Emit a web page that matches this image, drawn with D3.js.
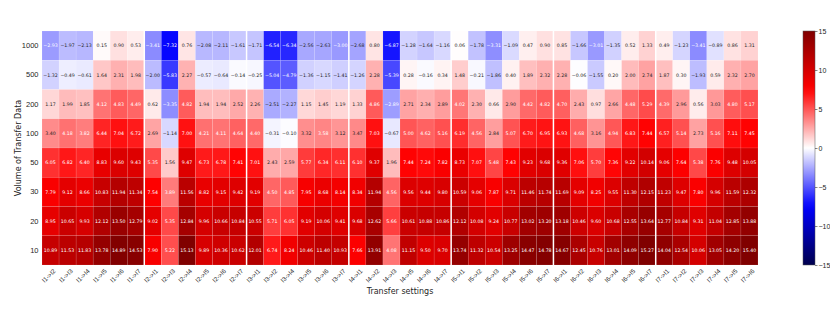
<!DOCTYPE html>
<html>
<head>
<meta charset="utf-8">
<script src="https://cdn.jsdelivr.net/npm/d3@7"></script>
<style>
  body { margin: 0; background: #fff; }
  svg { font-family: "DejaVu Sans", sans-serif; }
</style>
</head>
<body>
<div id="chart-area"></div>
<script>
// Data
let sources = ["I1", "I2", "I3", "I4", "I5", "I6", "I7"];
let volumes = ["1000", "500", "200", "100", "50", "30", "20", "10"];
let colorTicks = [-15, -10, -5, 0, 5, 10, 15];

let row1000 = [-2.93,-1.97,-2.13,0.15,0.90,0.53, -3.41,-7.32,0.76,-2.08,-2.11,-1.61, -1.71,-6.54,-6.34,-2.56,-2.63,-3.00, -2.68,0.80,-6.87,-1.28,-1.64,-1.16, 0.06,-1.78,-3.31,-1.09,0.47,0.90, 0.85,-1.66,-3.01,-1.35,0.52,1.33, 0.49,-1.23,-3.41,-0.89,0.86,1.31];
let row500 = [-1.32,-0.49,-0.61,1.64,2.31,1.98, -2.00,-5.83,2.27,-0.57,-0.64,-0.14, -0.25,-5.04,-4.79,-1.36,-1.15,-1.41, -1.26,2.28,-5.39,0.28,-0.16,0.34, 1.48,-0.21,-1.86,0.40,1.89,2.32, 2.28,-0.06,-1.55,0.20,2.00,2.74, 1.87,0.30,-1.93,0.59,2.32,2.70];
let row200 = [1.17,1.99,1.85,4.12,4.83,4.49, 0.62,-3.35,4.82,1.94,1.94,2.52, 2.26,-2.51,-2.27,1.15,1.45,1.19, 1.33,4.86,-2.89,2.71,2.34,2.89, 4.02,2.30,0.66,2.90,4.42,4.82, 4.70,2.43,0.97,2.66,4.48,5.29, 4.39,2.96,0.56,3.03,4.80,5.17];
let row100 = [3.40,4.18,3.82,6.44,7.04,6.72, 2.69,-1.14,7.00,4.21,4.11,4.64, 4.40,-0.31,-0.10,3.32,3.58,3.12, 3.47,7.03,-0.67,5.00,4.62,5.16, 6.19,4.56,2.84,5.07,6.70,6.95, 6.93,4.68,3.16,4.94,6.83,7.44, 6.57,5.14,2.73,5.16,7.11,7.45];
let row50 = [6.05,6.82,6.40,8.83,9.60,9.43, 5.35,1.56,9.47,6.73,6.78,7.41, 7.01,2.43,2.59,5.77,6.34,6.11, 6.10,9.37,1.96,7.44,7.24,7.82, 8.73,7.07,5.48,7.43,9.23,9.68, 9.36,7.06,5.70,7.36,9.22,10.14, 9.06,7.64,5.38,7.76,9.48,10.05];
let row30 = [7.79,9.12,8.66,10.83,11.94,11.34, 7.54,3.89,11.56,8.82,9.15,9.42, 9.19,4.50,4.85,7.95,8.68,8.14, 8.34,11.94,4.56,9.56,9.44,9.80, 10.59,9.06,7.87,9.71,11.46,11.74, 11.69,9.09,8.25,9.55,11.30,12.15, 11.23,9.47,7.80,9.96,11.59,12.32];
let row20 = [8.95,10.65,9.93,12.12,13.50,12.79, 9.02,5.35,12.84,9.96,10.66,10.84, 10.55,5.71,6.05,9.19,10.06,9.41, 9.68,12.62,5.66,10.61,10.88,10.86, 12.12,10.08,9.24,10.77,13.02,13.20, 13.18,10.46,9.60,10.68,12.55,13.64, 12.77,10.84,9.31,11.04,12.85,13.88];
let row10 = [10.89,11.53,11.83,13.78,14.89,14.53, 7.90,5.22,15.13,9.89,10.36,10.62, 12.01,6.74,8.24,10.46,11.40,10.93, 7.66,13.91,4.08,11.15,9.50,9.70, 13.74,11.32,10.54,13.25,14.47,14.78, 14.67,12.45,10.76,13.01,14.09,15.27, 14.04,12.54,10.06,13.05,14.20,15.40];

let rows = [row1000, row500, row200, row100, row50, row30, row20, row10];

// Build column labels "I1->I2" etc.
let settings = [];
sources.forEach(s => sources.forEach(t => { if (s !== t) settings.push(s + "->" + t); }));

let cells = [];
volumes.forEach((v, r) => rows[r].forEach((val, c) => cells.push({ vol: v, setting: settings[c], value: val })));

// SVG drawing area
let width = 830, height = 312;
let hm = { left: 42, right: 758, top: 31, bottom: 265 };

let svg = d3.select("#chart-area").append("svg")
    .attr("width", width)
    .attr("height", height);

let x = d3.scaleBand().domain(settings).range([hm.left, hm.right]);
let y = d3.scaleBand().domain(volumes).range([hm.top, hm.bottom]);

// matplotlib "seismic"
let color = d3.scaleLinear()
    .domain([-15, -7.5, 0, 7.5, 15])
    .range(["#00004d", "#0000ff", "#ffffff", "#ff0000", "#800000"])
    .clamp(true);

function lum(c) {
  let rgb = d3.rgb(c);
  let f = v => { v /= 255; return v <= 0.03928 ? v / 12.92 : Math.pow((v + 0.055) / 1.055, 2.4); };
  return 0.2126 * f(rgb.r) + 0.7152 * f(rgb.g) + 0.0722 * f(rgb.b);
}

// Cells
svg.append("g").selectAll("rect")
    .data(cells)
    .enter().append("rect")
    .attr("x", d => x(d.setting))
    .attr("y", d => y(d.vol))
    .attr("width", x.bandwidth())
    .attr("height", y.bandwidth())
    .attr("fill", d => color(d.value))
    .attr("stroke", "rgba(255,255,255,0.25)")
    .attr("stroke-width", 0.4);

// Annotations
svg.append("g").selectAll("text")
    .data(cells)
    .enter().append("text")
    .attr("x", d => x(d.setting) + x.bandwidth() / 2)
    .attr("y", d => y(d.vol) + y.bandwidth() / 2)
    .attr("dy", "0.35em")
    .attr("text-anchor", "middle")
    .attr("font-size", 4.7)
    .attr("fill", d => lum(color(d.value)) < 0.408 ? "#ffffff" : "#262626")
    .text(d => d3.format(".2f")(d.value));

// Group separators
svg.append("g").selectAll("line")
    .data(d3.range(1, sources.length))
    .enter().append("line")
    .attr("x1", d => x(settings[d * 6]))
    .attr("x2", d => x(settings[d * 6]))
    .attr("y1", hm.top)
    .attr("y2", hm.bottom)
    .attr("stroke", "#fff")
    .attr("stroke-width", 1.5);

// Axes
let xAxis = svg.append("g")
    .attr("transform", "translate(0," + hm.bottom + ")")
    .call(d3.axisBottom(x).tickSize(0));
xAxis.select(".domain").remove();
xAxis.selectAll("text")
    .attr("font-size", 6.3)
    .attr("fill", "#262626")
    .style("text-anchor", "end")
    .attr("x", 0)
    .attr("y", 0)
    .attr("dy", "0.35em")
    .attr("transform", "translate(4,5) rotate(-45)");

let yAxis = svg.append("g")
    .attr("transform", "translate(" + hm.left + ",0)")
    .call(d3.axisLeft(y).tickSize(0));
yAxis.select(".domain").remove();
yAxis.selectAll("text").attr("font-size", 7.5).attr("fill", "#262626").attr("x", -3.5);

// Axis titles
svg.append("text")
    .attr("x", (hm.left + hm.right) / 2)
    .attr("y", 294)
    .attr("text-anchor", "middle")
    .attr("font-size", 8)
    .attr("fill", "#262626")
    .text("Transfer settings");

svg.append("text")
    .attr("transform", "translate(21," + (hm.top + hm.bottom) / 2 + ") rotate(-90)")
    .attr("text-anchor", "middle")
    .attr("font-size", 8)
    .attr("fill", "#262626")
    .text("Volume of Transfer Data");

// Colorbar
let cb = { x: 803, w: 12 };
let cbScale = d3.scaleLinear().domain([-15, 15]).range([hm.bottom, hm.top]);

let defs = svg.append("defs");
let grad = defs.append("linearGradient")
    .attr("id", "seismic")
    .attr("x1", "0%").attr("y1", "100%")
    .attr("x2", "0%").attr("y2", "0%");
d3.range(0, 31).forEach(i => {
  let v = -15 + i;
  grad.append("stop")
      .attr("offset", (i / 30 * 100) + "%")
      .attr("stop-color", color(v));
});

svg.append("rect")
    .attr("x", cb.x)
    .attr("y", hm.top)
    .attr("width", cb.w)
    .attr("height", hm.bottom - hm.top)
    .attr("fill", "url(#seismic)")
    .attr("stroke", "#555")
    .attr("stroke-width", 0.5);

let cbAxis = svg.append("g")
    .attr("transform", "translate(" + (cb.x + cb.w) + ",0)")
    .call(d3.axisRight(cbScale).tickValues(colorTicks).tickSize(2.5)
      .tickFormat(d => d < 0 ? "\u2212" + Math.abs(d) : d));
cbAxis.select(".domain").remove();
cbAxis.selectAll("line").attr("stroke", "#333").attr("stroke-width", 0.6);
cbAxis.selectAll("text").attr("font-size", 7).attr("fill", "#262626").attr("x", 3.5);
</script>
</body>
</html>
